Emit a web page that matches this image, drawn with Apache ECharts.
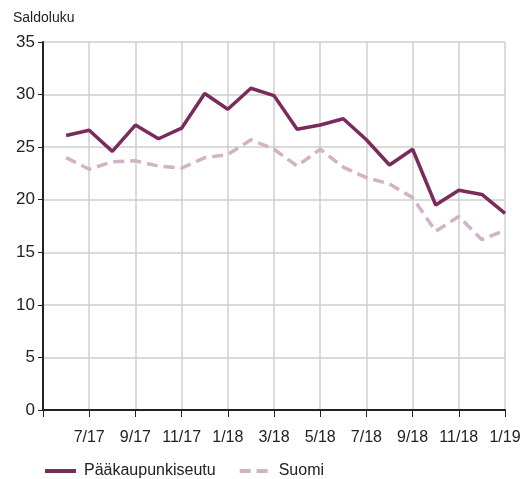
<!DOCTYPE html>
<html>
<head>
<meta charset="utf-8">
<script src="https://cdn.jsdelivr.net/npm/echarts@6/dist/echarts.min.js"></script>
<style>
  html, body { margin: 0; padding: 0; background: #fff; }
  #chart { width: 525px; height: 479px; }
</style>
</head>
<body>
<div id="chart"></div>
<script>
// kuukaudet 5/17 - 1/19 (ensimmäinen vain akselin alku)
const months = ["5/17", "6/17", "7/17", "8/17", "9/17", "10/17", "11/17", "12/17",
  "1/18", "2/18", "3/18", "4/18", "5/18", "6/18", "7/18", "8/18", "9/18",
  "10/18", "11/18", "12/18", "1/19"];
const paakaupunkiseutu = [null, 26.1, 26.6, 24.6, 27.1, 25.8, 26.8, 30.1, 28.6, 30.6,
  29.9, 26.7, 27.1, 27.7, 25.7, 23.3, 24.8, 19.5, 20.9, 20.5, 18.7];
const suomi = [null, 24.0, 22.9, 23.6, 23.7, 23.2, 23.0, 24.0, 24.3, 25.7,
  24.8, 23.2, 24.8, 23.1, 22.1, 21.5, 20.2, 17.0, 18.4, 16.2, 17.1];
const seriesNames = ["Pääkaupunkiseutu", "Suomi"];

const font = "'Liberation Sans', Arial, sans-serif";
const chart = echarts.init(document.getElementById("chart"));

const option = {
  animation: false,
  textStyle: { fontFamily: font },
  grid: { left: 43, right: 20, top: 42, bottom: 69, containLabel: false },
  title: {
    text: "Saldoluku",
    left: 13,
    top: 11,
    padding: 0,
    textStyle: { fontFamily: font, fontSize: 14, fontWeight: "normal", color: "#222" }
  },
  legend: {
    data: seriesNames,
    left: 43,
    top: 463,
    padding: 0,
    itemWidth: 31,
    itemHeight: 14,
    itemGap: 22,
    itemStyle: { color: "rgba(0,0,0,0)", borderColor: "rgba(0,0,0,0)", borderWidth: 0 },
    lineStyle: { width: 4 },
    textStyle: { fontFamily: font, fontSize: 16, color: "#222", padding: [0, 0, 0, 3] }
  },
  xAxis: {
    type: "category",
    data: months,
    boundaryGap: false,
    axisLine: { lineStyle: { color: "#222", width: 2 } },
    axisTick: {
      length: 7,
      interval: (i) => i % 2 === 0,
      lineStyle: { color: "#222", width: 1 }
    },
    axisLabel: {
      interval: (i) => i % 2 === 0 && i > 0,
      margin: 20,
      fontFamily: font,
      fontSize: 16,
      color: "#222"
    },
    splitLine: {
      show: true,
      interval: (i) => i % 2 === 0 && i > 0,
      lineStyle: { color: "#cfcfcf", width: 1.5 }
    }
  },
  yAxis: {
    type: "value",
    min: 0,
    max: 35,
    interval: 5,
    axisLine: { show: true, lineStyle: { color: "#222", width: 2 } },
    axisTick: { show: true, length: 5, lineStyle: { color: "#222" } },
    axisLabel: { margin: 8, fontFamily: font, fontSize: 17, color: "#222" },
    splitLine: { lineStyle: { color: "#cfcfcf", width: 1.5 } }
  },
  series: [
    {
      name: seriesNames[0],
      type: "line",
      data: paakaupunkiseutu,
      symbol: "none",
      z: 3,
      color: "#7b2a5c",
      lineStyle: { color: "#7b2a5c", width: 3.5 }
    },
    {
      name: seriesNames[1],
      type: "line",
      data: suomi,
      symbol: "none",
      z: 2,
      color: "#d2b2c6",
      lineStyle: { color: "#d2b2c6", width: 3.5, type: [11, 6] }
    }
  ]
};
chart.setOption(option);
</script>
</body>
</html>
